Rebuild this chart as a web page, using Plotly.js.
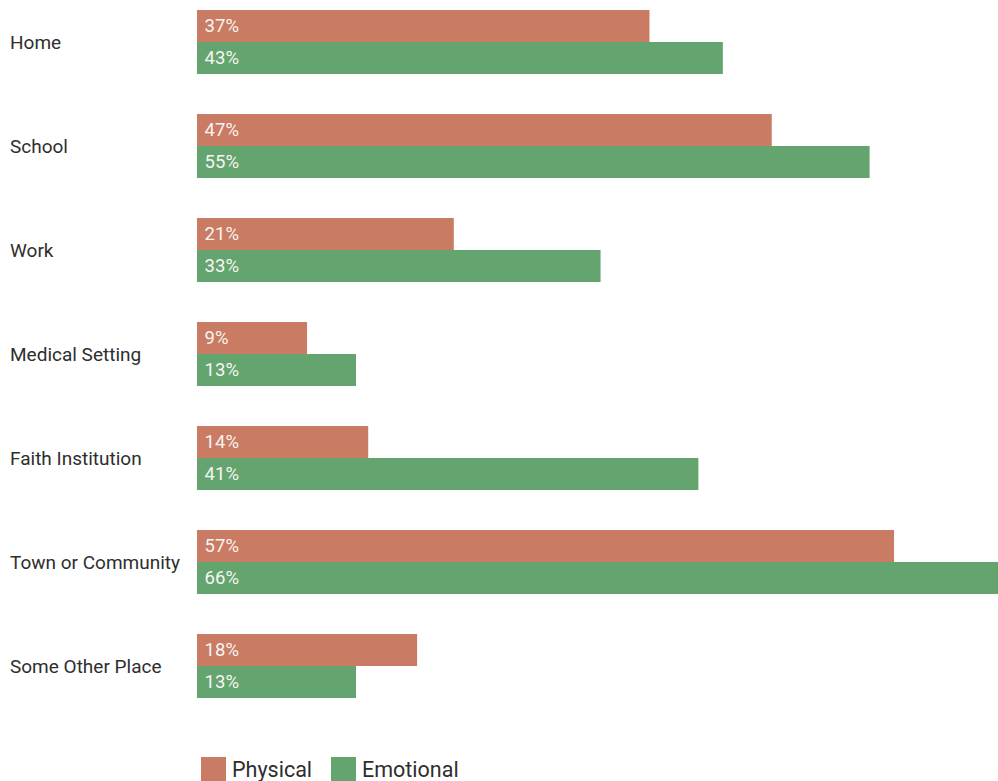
<!DOCTYPE html>
<html>
<head>
<meta charset="utf-8">
<script src="https://cdn.plot.ly/plotly-3.0.1.min.js"></script>
<style>html,body{margin:0;padding:0;background:#fff;}#chart{width:998px;height:781px;}</style>
</head>
<body>
<div id="chart"></div>
<script>
const categories = ["Home", "School", "Work", "Medical Setting", "Faith Institution", "Town or Community", "Some Other Place"];
const seriesNames = ["Physical", "Emotional"];
const physical = [37, 47, 21, 9, 14, 57, 18];
const emotional = [43, 55, 33, 13, 41, 66, 13];
const colors = ["#C97B63", "#64A46F"];

const W = 998, H = 781, ML = 197, MR = 0, MT = 0, MB = 53;
const plotW = W - ML - MR;

function barTrace(name, vals, color) {
  return {
    type: "bar", orientation: "h", name: name,
    y: categories, x: vals,
    marker: {color: color, line: {width: 0}},
    texttemplate: "\u00a0%{x}%", textposition: "inside", insidetextanchor: "start",
    textfont: {family: "Roboto, sans-serif", size: 18.5, color: "#f7f4f2"},
    constraintext: "none", hoverinfo: "skip", showlegend: false
  };
}

const traces = [barTrace(seriesNames[0], physical, colors[0]), barTrace(seriesNames[1], emotional, colors[1])];

const annotations = categories.map(c => ({
  xref: "paper", yref: "y", x: (8 - ML) / plotW, y: c, xanchor: "left", yanchor: "middle",
  text: c, showarrow: false, font: {family: "Roboto, sans-serif", size: 19, color: "#2e2e2e"}
}));

// manual legend
const legendX = [201, 331];
const shapes = [];
seriesNames.forEach((n, i) => {
  shapes.push({type: "rect", xref: "paper", yref: "paper",
    x0: (legendX[i] - ML) / plotW, x1: (legendX[i] + 25 - ML) / plotW,
    y0: (H - MB - 781) / (H - MT - MB), y1: (H - MB - 757) / (H - MT - MB),
    fillcolor: colors[i], line: {width: 0}});
  annotations.push({xref: "paper", yref: "paper", x: (legendX[i] + 29 - ML) / plotW,
    y: (H - MB - 769) / (H - MT - MB), xanchor: "left", yanchor: "middle",
    text: n, showarrow: false, font: {family: "Roboto, sans-serif", size: 21.5, color: "#2e2e2e"}});
});

const layout = {
  width: W, height: H,
  margin: {l: ML, r: MR, t: MT, b: MB, pad: 0},
  paper_bgcolor: "#fff", plot_bgcolor: "#fff",
  barmode: "group", bargap: 0.385, bargroupgap: 0,
  showlegend: false,
  xaxis: {range: [0, 65.5], showgrid: false, zeroline: false, showticklabels: false, ticks: "", fixedrange: true},
  yaxis: {type: "category", range: [6.596, -0.404], showgrid: false, zeroline: false, showticklabels: false, ticks: "", fixedrange: true},
  annotations: annotations, shapes: shapes,
  font: {family: "Roboto, sans-serif"}
};

Plotly.newPlot("chart", traces, layout, {displayModeBar: false, staticPlot: true});
</script>
</body>
</html>
